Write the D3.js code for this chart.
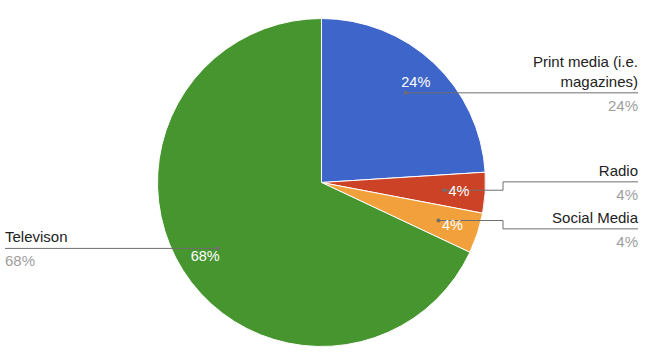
<!DOCTYPE html>
<html><head><meta charset="utf-8">
<script src="https://cdn.jsdelivr.net/npm/d3@7"></script>
<style>body{margin:0;background:#fff;}svg{display:block;font-family:"Liberation Sans",Arial,sans-serif;}</style>
</head><body>
<svg id="c" width="672" height="356"></svg>
<script>
const categories = ["Print media (i.e. magazines)", "Radio", "Social Media", "Televison"];
const values = [24, 4, 4, 68];
const colors = ["#3e65c9", "#cc4226", "#f1a03b", "#46952f"];

const W = 672, H = 356;
const cx = 321.5, cy = 182.5, R = 164;
const svg = d3.select("#c");
const g = svg.append("g").attr("transform", `translate(${cx},${cy})`);

const pie = d3.pie().sort(null).value(d => d.v);
const data = categories.map((c, i) => ({c, v: values[i], col: colors[i]}));
const arcs = pie(data);
const total = d3.sum(values);
const fmt = v => Math.round(v / total * 100) + "%";

const arc = d3.arc().innerRadius(0).outerRadius(R);
g.selectAll("path.s").data(arcs).join("path").attr("class", "s")
  .attr("d", arc).attr("fill", d => d.data.col).attr("stroke", "#fff").attr("stroke-width", 1);

const anchorArc = d3.arc().innerRadius(R * 0.75).outerRadius(R * 0.75);
const labelArc = d3.arc().innerRadius(R * 0.84).outerRadius(R * 0.84);

// leader labels layout
const rightX = 638 - cx, leftX = 5 - cx, elbowX = 503 - cx;
const fs = 15, lh = 20;
const items = arcs.map(a => {
  const [ax, ay] = anchorArc.centroid(a);
  const mid = (a.startAngle + a.endAngle) / 2;
  return {a, ax, ay, y: ay, right: mid < Math.PI, lines: []};
});

// wrap names
const meas = svg.append("text").attr("font-size", fs);
function wrap(str, maxW) {
  const words = str.split(" "); const out = []; let cur = "";
  words.forEach(w => {
    const t = cur ? cur + " " + w : w;
    meas.text(t);
    if (meas.node().getComputedTextLength() > maxW && cur) { out.push(cur); cur = w; } else cur = t;
  });
  out.push(cur); return out;
}
items.forEach(it => { it.lines = wrap(it.a.data.c, 112); });
meas.remove();

// resolve overlaps per side
[true, false].forEach(side => {
  const s = items.filter(d => d.right === side).sort((p, q) => p.y - q.y);
  for (let k = 0; k < 50; k++) {
    for (let i = 1; i < s.length; i++) {
      const need = s[i].lines.length * lh + 27;
      const gap = s[i].y - s[i - 1].y;
      if (gap < need) { const d = (need - gap) / 2; s[i].y += d; s[i - 1].y -= d; }
    }
  }
});

const lg = g.append("g");
items.forEach(it => {
  const tx = it.right ? rightX : leftX;
  let pts;
  if (Math.abs(it.y - it.ay) < 4) pts = [[it.ax, it.y], [tx, it.y]];
  else pts = [[it.ax, it.ay], [elbowX, it.ay], [elbowX, it.y], [tx, it.y]];
  lg.append("path").attr("d", d3.line()(pts)).attr("fill", "none")
    .attr("stroke", "#6f6f6f").attr("stroke-width", 1);
  lg.append("circle").attr("cx", it.ax).attr("cy", it.ay).attr("r", 2).attr("fill", "#6f6f6f");
  const anchor = it.right ? "end" : "start";
  const n = it.lines.length;
  it.lines.forEach((ln, i) => {
    lg.append("text").attr("x", tx).attr("y", it.y - 6 - (n - 1 - i) * lh)
      .attr("text-anchor", anchor).attr("font-size", fs).attr("fill", "#222").text(ln);
  });
  lg.append("text").attr("x", tx).attr("y", it.y + 18)
    .attr("text-anchor", anchor).attr("font-size", fs).attr("fill", "#9e9e9e").text(fmt(it.a.data.v));
});

// in-slice labels
g.selectAll("text.p").data(arcs).join("text").attr("class", "p")
  .attr("transform", d => { const [x, y] = labelArc.centroid(d); return `translate(${x},${y})`; })
  .attr("dy", "0.35em").attr("text-anchor", "middle").attr("font-size", 14.5)
  .attr("fill", "#fff").text(d => fmt(d.data.v));
</script>
</body></html>
